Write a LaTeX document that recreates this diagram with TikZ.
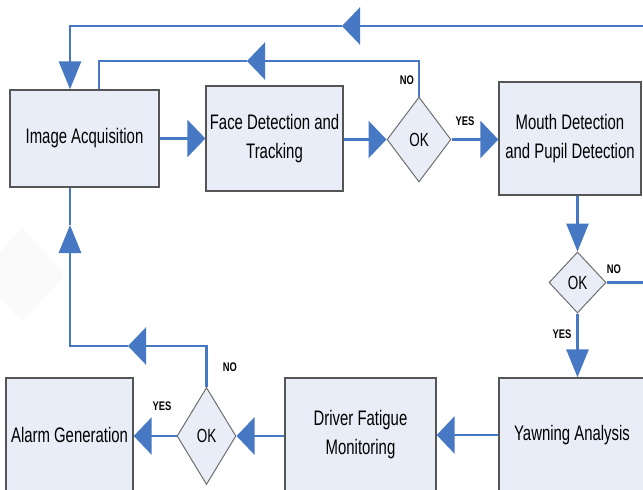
\documentclass[tikz,border=0pt]{standalone}
\usepackage{fontspec}
\setmainfont{Liberation Sans}[FakeStretch=0.71]
\newfontfamily\lblfont{Liberation Sans}[FakeStretch=0.75]
\usetikzlibrary{shapes.geometric,arrows.meta}
\definecolor{flowblue}{RGB}{70,120,196}
\definecolor{boxfill}{RGB}{233,237,247}
\definecolor{boxedge}{RGB}{85,85,85}
\begin{document}
\begin{tikzpicture}[x=1pt,y=-1pt,
 box/.style={draw=boxedge, line width=1.3pt, fill=boxfill, align=center, inner sep=0pt, font=\fontsize{21}{29}\selectfont},
 dec/.style={diamond, draw=boxedge!85, line width=1pt, fill=boxfill, inner sep=0pt, font=\fontsize{19}{20}\selectfont},
 flow/.style={draw=flowblue, line width=2.8pt},
 ha/.style={-{Triangle[length=18pt,width=37pt]}},
 va/.style={-{Triangle[length=28pt,width=22pt]}},
 lbl/.style={font=\lblfont\bfseries\fontsize{12.5}{14}\selectfont, inner sep=0pt}]
\useasboundingbox (0,0) rectangle (643,490);
\clip (0,0) rectangle (643,490);
% faint watermark
\path[fill=black!2] (-20,275) -- (22,227) -- (65,275) -- (22,322) -- cycle;
% nodes
\node[box, minimum width=149pt, minimum height=97pt] (ia) at (84.5,138.5) {Image Acquisition};
\node[box, minimum width=137pt, minimum height=105pt] (fd) at (274.5,138.5) {Face Detection and\\Tracking};
\node[dec, minimum width=64pt, minimum height=85pt] (d1) at (419,139.5) {OK};
\node[box, minimum width=142pt, minimum height=113pt] (md) at (570,138.5) {Mouth Detection\\and Pupil Detection};
\node[dec, minimum width=57pt, minimum height=61pt] (d2) at (577.5,282.5) {OK};
\node[box, minimum width=146pt, minimum height=114pt] (ya) at (572,435) {Yawning Analysis};
\node[box, minimum width=151pt, minimum height=114pt] (df) at (360.5,435) {Driver Fatigue\\Monitoring};
\node[dec, minimum width=59pt, minimum height=97pt] (d3) at (206.5,436) {OK};
\node[box, minimum width=127pt, minimum height=114pt] (ag) at (69.5,435) {Alarm Generation};
% helper coordinates
\coordinate (x70) at (70,0);
\coordinate (x99) at (99,0);
\coordinate (m1) at (247,61);
\coordinate (m2) at (342,26);
\coordinate (m3) at (128,346);
\coordinate (m4) at (70,225);
% connectors
\draw[flow,ha] (ia.east) -- (fd.west);
\draw[flow,ha] (fd.east |- d1.west) -- (d1.west);
\draw[flow,ha] (d1.east) -- (d1.east -| md.west);
\draw[flow,ha] (d1.north) |- (m1);
\draw[flow] (m1) -| (ia.north -| x99);
\draw[flow,ha] (d2.east) -- ++(40,0) |- (m2);
\draw[flow,va] (m2) -| (ia.north -| x70);
\draw[flow,va] (md.south -| d2.north) -- (d2.north);
\draw[flow,va] (d2.south) -- (d2.south |- ya.north);
\draw[flow,ha] (ya.west) -- (df.east);
\draw[flow,ha] (df.west |- d3.east) -- (d3.east);
\draw[flow,ha] (d3.west) -- (d3.west -| ag.east);
\draw[flow,ha] (d3.north) |- (m3);
\draw[flow,va] (m3) -| (m4);
\draw[flow] (m4) -- (ia.south -| x70);
% labels
\node[lbl] (yes1) at (465,121) {YES};
\node[lbl] (no1) at (407,80) {NO};
\node[lbl] (no2) at (614,269) {NO};
\node[lbl] (yes2) at (562,334) {YES};
\node[lbl] (yes3) at (162,406) {YES};
\node[lbl] (no3) at (230,367) {NO};
\end{tikzpicture}
\end{document}
